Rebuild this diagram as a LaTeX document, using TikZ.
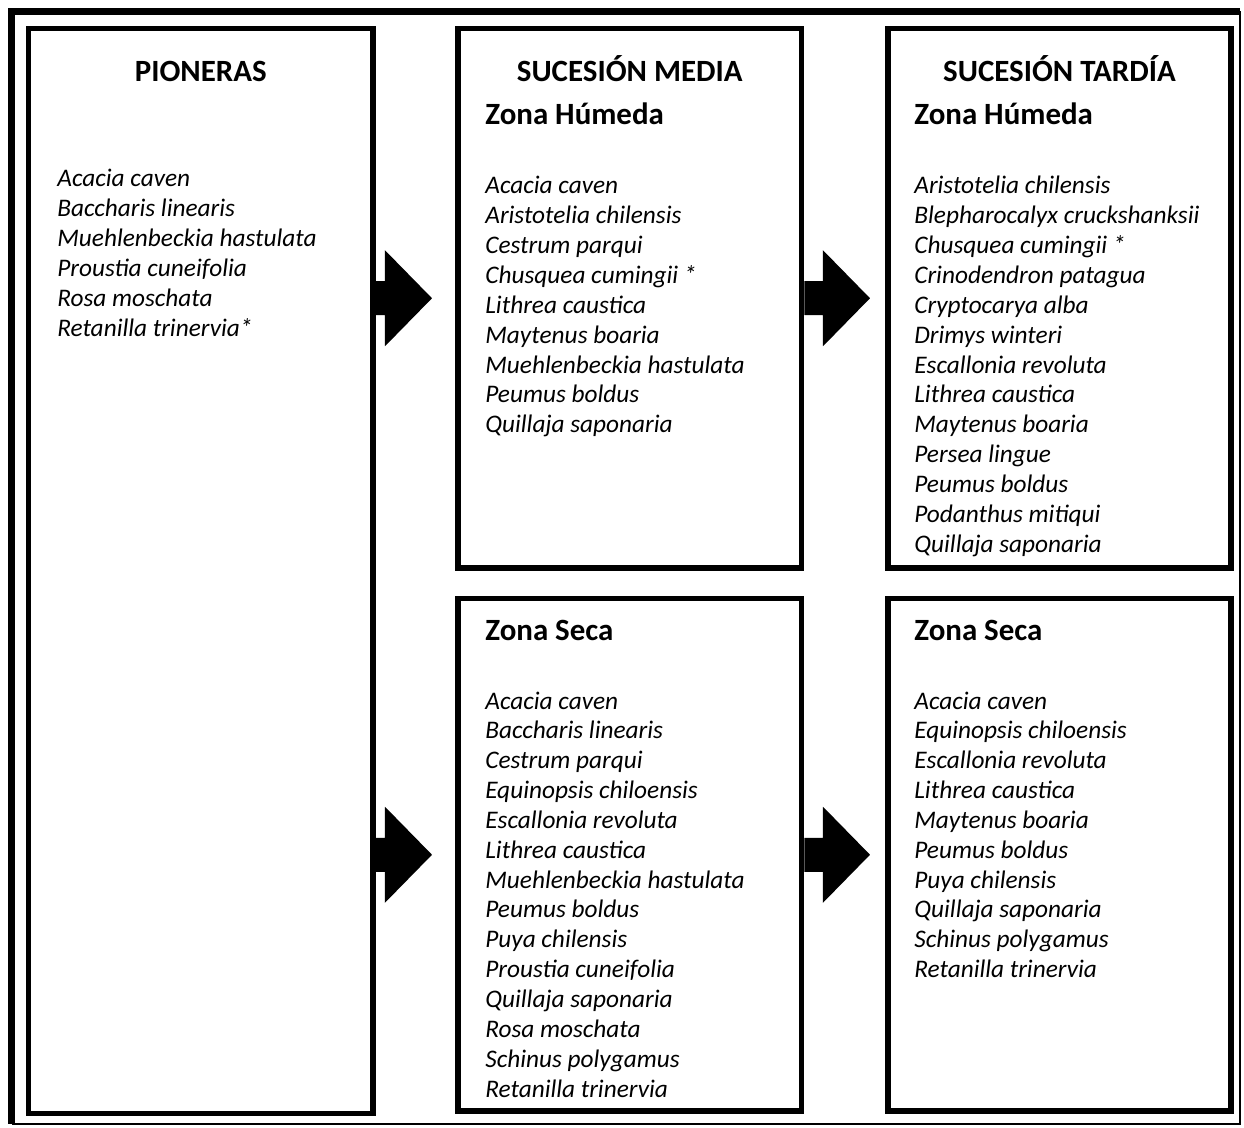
\documentclass[tikz,border=0pt]{standalone}
\usepackage{fontspec}
\setmainfont{Carlito}
\usetikzlibrary{positioning, calc, fit}
\tikzset{
  caja/.style={draw, line width=3.4pt, inner sep=0pt},
  titulo/.style={font=\fontsize{17.6}{21}\selectfont\bfseries, inner sep=0pt},
  zona/.style={titulo, anchor=base west},
  especie/.style={font=\fontsize{14.4}{17}\selectfont\itshape, anchor=base west, inner sep=0pt},
  pics/flecha/.style={code={
    \fill (0,-17) -- ({#1-47},-17) -- ({#1-47},-48) -- (#1,0) -- ({#1-47},48) -- ({#1-47},17) -- (0,17) -- cycle;
  }},
}

\begin{document}
\begin{tikzpicture}[x=0.02cm, y=-0.02cm]
  \useasboundingbox (0,0) rectangle (1244,1128);
  % marco exterior
  \draw[line width=3.8pt] (1240,11.5) -- (11.5,11.5) -- (11.5,1124);
  \draw[line width=0.8pt] (11.5,1124) -- (1240,1124) -- (1240,11.5);
  % cajas
  \node[caja, fit={(28.5,28.5) (373,1113.5)}] (pion) {};
  \node[caja, fit={(458,28.5) (801.5,568)}] (mtop) {};
  \node[caja, fit={(458,598.5) (801.5,1111)}] (mbot) {};
  \node[caja, fit={(888,28.5) (1231,568)}] (ttop) {};
  \node[caja, fit={(888,598.5) (1231,1111)}] (tbot) {};
  % flechas
  \pic at (pion.east |- mtop.west) {flecha=56};
  \pic at (pion.east |- mbot.west) {flecha=56};
  \pic at (mtop.east |- ttop.west) {flecha=65.5};
  \pic at (mbot.east |- tbot.west) {flecha=65.5};
  % titulos
  \node[titulo, anchor=base] (tpion) at (pion.north |- 0,82) {PIONERAS};
  \node[titulo, anchor=base] (tmed) at (mtop.north |- tpion.base) {SUCESIÓN MEDIA};
  \node[titulo, anchor=base] (ttar) at (ttop.north |- tpion.base) {SUCESIÓN TARDÍA};
  \node[zona] (zmh) at (485,125) {Zona Húmeda};
  \node[zona] (zth) at (914,125) {Zona Húmeda};
  \node[zona] (zms) at (485,640) {Zona Seca};
  \node[zona] (zts) at (914,640) {Zona Seca};
  % especies
  \foreach \sp [count=\i] in {Acacia caven, Baccharis linearis, Muehlenbeckia hastulata,
      Proustia cuneifolia, Rosa moschata, Retanilla trinervia*}
    \node[especie] (pion-\i) at (57,{187+29.85*(\i-1)}) {\sp};
  \foreach \sp [count=\i] in {Acacia caven, Aristotelia chilensis, Cestrum parqui,
      Chusquea cumingii *, Lithrea caustica, Maytenus boaria,
      Muehlenbeckia hastulata, Peumus boldus, Quillaja saponaria}
    \node[especie] (mh-\i) at (485,{194+29.85*(\i-1)}) {\sp};
  \foreach \sp [count=\i] in {Aristotelia chilensis, Blepharocalyx cruckshanksii,
      Chusquea cumingii *, Crinodendron patagua, Cryptocarya alba,
      Drimys winteri, Escallonia revoluta, Lithrea caustica, Maytenus boaria,
      Persea lingue, Peumus boldus, Podanthus mitiqui, Quillaja saponaria}
    \node[especie] (th-\i) at (914,{194+29.85*(\i-1)}) {\sp};
  \foreach \sp [count=\i] in {Acacia caven, Baccharis linearis, Cestrum parqui,
      Equinopsis chiloensis, Escallonia revoluta, Lithrea caustica,
      Muehlenbeckia hastulata, Peumus boldus, Puya chilensis, Proustia cuneifolia,
      Quillaja saponaria, Rosa moschata, Schinus polygamus, Retanilla trinervia}
    \node[especie] (ms-\i) at (485,{709+29.85*(\i-1)}) {\sp};
  \foreach \sp [count=\i] in {Acacia caven, Equinopsis chiloensis, Escallonia revoluta,
      Lithrea caustica, Maytenus boaria, Peumus boldus, Puya chilensis,
      Quillaja saponaria, Schinus polygamus, Retanilla trinervia}
    \node[especie] (ts-\i) at (914,{709+29.85*(\i-1)}) {\sp};
\end{tikzpicture}
\end{document}
